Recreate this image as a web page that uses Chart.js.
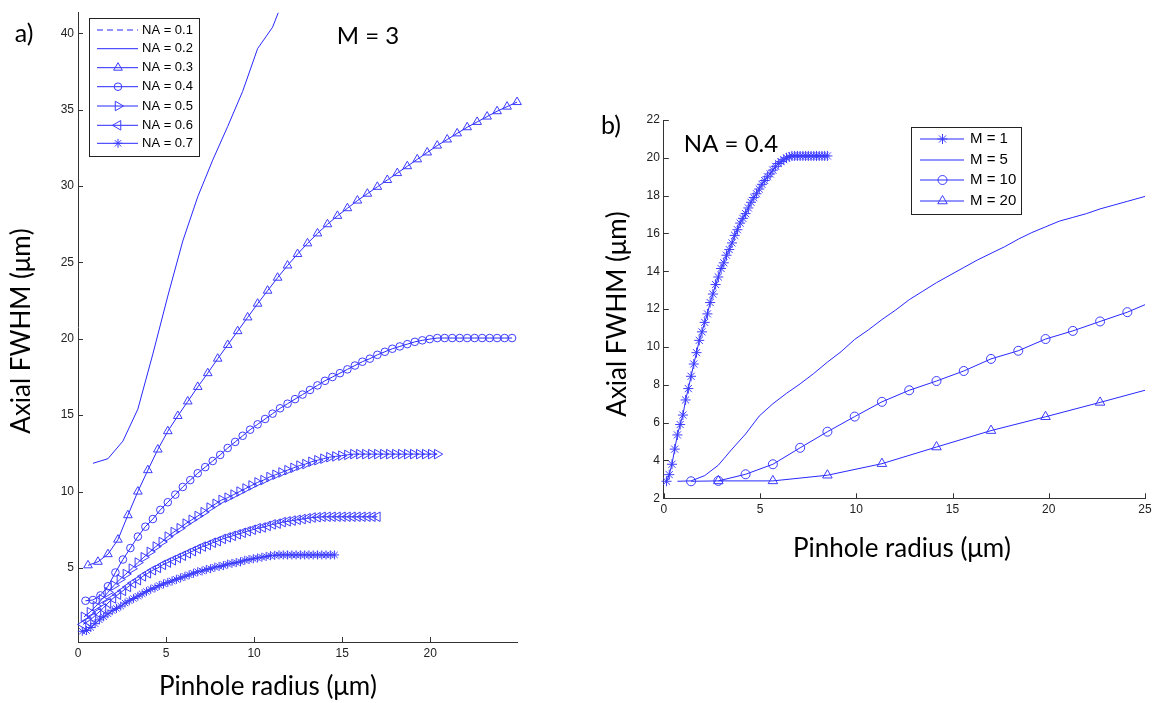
<!DOCTYPE html>
<html>
<head>
<meta charset="utf-8">
<script src="https://cdn.jsdelivr.net/npm/chart.js@4.4.1/dist/chart.umd.min.js"></script>
<style>
  html, body { margin: 0; padding: 0; background: #fff; }
  #wrap { position: relative; width: 1155px; height: 703px; }
  canvas { position: absolute; top: 0; }
  #chartA { left: 0; width: 590px; height: 703px; }
  #chartB { left: 590px; width: 565px; height: 703px; }
</style>
</head>
<body>
<div id="wrap">
  <canvas id="chartA" width="590" height="703"></canvas>
  <canvas id="chartB" width="565" height="703"></canvas>
</div>
<script>
// ---- panel a) M = 3, one curve per NA ----
const xTicksA = [0, 5, 10, 15, 20];
const yTicksA = [5, 10, 15, 20, 25, 30, 35, 40];

const xNA01 = [];
const yNA01 = [];   // off the top of the plot, only in the legend

const xNA02 = [0.85, 1.7, 2.55, 3.4, 4.25, 5.1, 5.95, 6.8, 7.65, 8.5, 9.35, 10.2, 11.05, 11.9];
const yNA02 = [11.85, 12.15, 13.3, 15.4, 19.0, 22.8, 26.4, 29.3, 31.7, 33.9, 36.2, 39.0, 40.4, 42.9];

const xNA03 = [0.567, 1.133, 1.7, 2.267, 2.833, 3.4, 3.967, 4.533, 5.1, 5.667, 6.233, 6.8, 7.367, 7.933, 8.5,
  9.067, 9.633, 10.2, 10.767, 11.333, 11.9, 12.467, 13.033, 13.6, 14.167, 14.733, 15.3, 15.867, 16.433, 17.0,
  17.567, 18.133, 18.7, 19.267, 19.833, 20.4, 20.967, 21.533, 22.1, 22.667, 23.233, 23.8, 24.367, 24.933];
const yNA03 = [5.17, 5.4, 5.9, 6.85, 8.45, 10.0, 11.4, 12.75, 13.95, 14.95, 15.9, 16.85, 17.75, 18.7, 19.6,
  20.5, 21.4, 22.3, 23.15, 24.0, 24.8, 25.55, 26.25, 26.9, 27.5, 28.05, 28.55, 29.05, 29.5, 29.95,
  30.4, 30.85, 31.3, 31.75, 32.2, 32.65, 33.05, 33.45, 33.85, 34.2, 34.55, 34.9, 35.2, 35.5];

const xNA04 = [0.425, 0.85, 1.275, 1.7, 2.125, 2.55, 2.975, 3.4, 3.825, 4.25, 4.675, 5.1, 5.525, 5.95, 6.375,
  6.8, 7.225, 7.65, 8.075, 8.5, 8.925, 9.35, 9.775, 10.2, 10.625, 11.05, 11.475, 11.9, 12.325, 12.75,
  13.175, 13.6, 14.025, 14.45, 14.875, 15.3, 15.725, 16.15, 16.575, 17.0, 17.425, 17.85, 18.275, 18.7,
  19.125, 19.55, 19.975, 20.4, 20.825, 21.25, 21.675, 22.1, 22.525, 22.95, 23.375, 23.8, 24.225, 24.65];
const yNA04 = [2.85, 2.9, 3.2, 3.8, 4.7, 5.55, 6.3, 7.05, 7.7, 8.2, 8.8, 9.3, 9.8, 10.3, 10.75,
  11.2, 11.6, 12.0, 12.4, 12.85, 13.25, 13.65, 14.05, 14.4, 14.75, 15.1, 15.45, 15.75, 16.05, 16.35,
  16.65, 16.95, 17.25, 17.5, 17.75, 18.0, 18.25, 18.5, 18.7, 18.95, 19.15, 19.35, 19.5, 19.65,
  19.8, 19.9, 19.98, 20.05, 20.05, 20.05, 20.05, 20.05, 20.05, 20.05, 20.05, 20.05, 20.05, 20.05];

const xNA05 = [0.34, 0.68, 1.02, 1.36, 1.7, 2.04, 2.38, 2.72, 3.06, 3.4, 3.74, 4.08, 4.42, 4.76, 5.1,
  5.44, 5.78, 6.12, 6.46, 6.8, 7.14, 7.48, 7.82, 8.16, 8.5, 8.84, 9.18, 9.52, 9.86, 10.2,
  10.54, 10.88, 11.22, 11.56, 11.9, 12.24, 12.58, 12.92, 13.26, 13.6, 13.94, 14.28, 14.62, 14.96, 15.3,
  15.64, 15.98, 16.32, 16.66, 17.0, 17.34, 17.68, 18.02, 18.36, 18.7, 19.04, 19.38, 19.72, 20.06, 20.4];
const yNA05 = [1.8, 2.1, 2.5, 2.95, 3.4, 3.85, 4.25, 4.6, 4.95, 5.35, 5.7, 6.05, 6.4, 6.7, 7.05,
  7.35, 7.6, 7.9, 8.15, 8.4, 8.65, 8.95, 9.2, 9.45, 9.6, 9.8, 10.0, 10.2, 10.4, 10.6,
  10.75, 10.95, 11.1, 11.25, 11.4, 11.55, 11.7, 11.8, 11.95, 12.05, 12.15, 12.25, 12.3, 12.35, 12.4,
  12.45, 12.45, 12.45, 12.45, 12.45, 12.45, 12.45, 12.45, 12.45, 12.45, 12.45, 12.45, 12.45, 12.45, 12.45];

const xNA06 = [0.283, 0.567, 0.85, 1.133, 1.417, 1.7, 1.983, 2.267, 2.55, 2.833, 3.117, 3.4, 3.683, 3.967, 4.25,
  4.533, 4.817, 5.1, 5.383, 5.667, 5.95, 6.233, 6.517, 6.8, 7.083, 7.367, 7.65, 7.933, 8.217, 8.5,
  8.783, 9.067, 9.35, 9.633, 9.917, 10.2, 10.483, 10.767, 11.05, 11.333, 11.617, 11.9, 12.183, 12.467, 12.75,
  13.033, 13.317, 13.6, 13.883, 14.167, 14.45, 14.733, 15.017, 15.3, 15.583, 15.867, 16.15, 16.433, 16.717, 17.0];
const yNA06 = [1.3, 1.5, 1.75, 2.05, 2.35, 2.7, 3.0, 3.25, 3.5, 3.75, 4.0, 4.2, 4.45, 4.65, 4.85,
  5.0, 5.2, 5.35, 5.5, 5.65, 5.8, 5.95, 6.1, 6.25, 6.4, 6.5, 6.65, 6.75, 6.9, 7.0,
  7.1, 7.2, 7.3, 7.4, 7.5, 7.6, 7.65, 7.75, 7.85, 7.9, 8.0, 8.05, 8.1, 8.15, 8.2,
  8.25, 8.3, 8.32, 8.35, 8.35, 8.35, 8.35, 8.35, 8.35, 8.35, 8.35, 8.35, 8.35, 8.35, 8.35];

const xNA07 = [0.243, 0.486, 0.729, 0.971, 1.214, 1.457, 1.7, 1.943, 2.186, 2.429, 2.671, 2.914, 3.157, 3.4, 3.643,
  3.886, 4.129, 4.371, 4.614, 4.857, 5.1, 5.343, 5.586, 5.829, 6.071, 6.314, 6.557, 6.8, 7.043, 7.286,
  7.529, 7.771, 8.014, 8.257, 8.5, 8.743, 8.986, 9.229, 9.471, 9.714, 9.957, 10.2, 10.443, 10.686, 10.929,
  11.171, 11.414, 11.657, 11.9, 12.143, 12.386, 12.629, 12.871, 13.114, 13.357, 13.6, 13.843, 14.086, 14.329, 14.571];
const yNA07 = [0.85, 0.9, 1.1, 1.35, 1.6, 1.8, 2.0, 2.2, 2.35, 2.5, 2.7, 2.85, 3.0, 3.15, 3.3,
  3.45, 3.6, 3.7, 3.85, 3.95, 4.05, 4.15, 4.25, 4.35, 4.45, 4.55, 4.65, 4.75, 4.8, 4.9,
  4.95, 5.05, 5.1, 5.15, 5.25, 5.3, 5.35, 5.4, 5.5, 5.55, 5.6, 5.65, 5.7, 5.75, 5.8,
  5.82, 5.85, 5.85, 5.85, 5.85, 5.85, 5.85, 5.85, 5.85, 5.85, 5.85, 5.85, 5.85, 5.85, 5.85];

// ---- panel b) NA = 0.4, one curve per M ----
const xTicksB = [0, 5, 10, 15, 20, 25];
const yTicksB = [2, 4, 6, 8, 10, 12, 14, 16, 18, 20, 22];

const xM1 = [0.142, 0.283, 0.425, 0.567, 0.708, 0.85, 0.992, 1.133, 1.275, 1.417, 1.558, 1.7, 1.842, 1.983, 2.125,
  2.267, 2.408, 2.55, 2.692, 2.833, 2.975, 3.117, 3.258, 3.4, 3.542, 3.683, 3.825, 3.967, 4.108, 4.25,
  4.392, 4.533, 4.675, 4.817, 4.958, 5.1, 5.242, 5.383, 5.525, 5.667, 5.808, 5.95, 6.092, 6.233, 6.375,
  6.517, 6.658, 6.8, 6.942, 7.083, 7.225, 7.367, 7.508, 7.65, 7.792, 7.933, 8.075, 8.217, 8.358, 8.5];
const yM1 = [2.9, 3.25, 3.8, 4.6, 5.35, 5.9, 6.4, 7.2, 7.8, 8.45, 9.1, 9.7, 10.35, 10.8, 11.3,
  11.75, 12.35, 12.8, 13.3, 13.7, 14.15, 14.45, 14.85, 15.15, 15.5, 15.9, 16.2, 16.55, 16.8, 17.05,
  17.35, 17.65, 17.9, 18.1, 18.35, 18.6, 18.8, 19.0, 19.15, 19.35, 19.55, 19.7, 19.8, 19.9, 20.0,
  20.05, 20.1, 20.1, 20.1, 20.1, 20.1, 20.1, 20.1, 20.1, 20.1, 20.1, 20.1, 20.1, 20.1, 20.1];

const xM5 = [0.708, 1.417, 2.125, 2.833, 3.542, 4.25, 4.958, 5.667, 6.375, 7.083, 7.792, 8.5, 9.208, 9.917, 10.625,
  11.333, 12.042, 12.75, 13.458, 14.167, 14.875, 15.583, 16.292, 17.0, 17.708, 18.417, 19.125, 19.833, 20.542, 21.25,
  21.958, 22.667, 23.375, 24.083, 24.792, 25.5];
const yM5 = [2.9, 2.92, 3.2, 3.75, 4.6, 5.4, 6.35, 7.0, 7.55, 8.05, 8.6, 9.2, 9.75, 10.4, 10.9,
  11.45, 11.95, 12.5, 12.95, 13.4, 13.8, 14.2, 14.6, 14.95, 15.3, 15.7, 16.05, 16.35, 16.65, 16.85,
  17.05, 17.3, 17.5, 17.7, 17.9, 18.1];

const xM10 = [1.417, 2.833, 4.25, 5.667, 7.083, 8.5, 9.917, 11.333, 12.75, 14.167, 15.583, 17.0, 18.417, 19.833, 21.25, 22.667, 24.083, 25.5];
const yM10 = [2.9, 2.92, 3.27, 3.8, 4.67, 5.52, 6.32, 7.1, 7.71, 8.2, 8.73, 9.37, 9.8, 10.42, 10.85, 11.35, 11.84, 12.45];

const xM20 = [2.833, 5.667, 8.5, 11.333, 14.167, 17.0, 19.833, 22.667, 25.5];
const yM20 = [2.92, 2.92, 3.22, 3.83, 4.71, 5.58, 6.31, 7.07, 7.85];

const lineBlue = 'rgb(40,40,255)';
const markBlue = 'rgb(60,60,255)';
const tickFont = { family: 'Liberation Sans, Arial, sans-serif', size: 12 };
const bigFont = 'Lato, Calibri, sans-serif';

function series(label, xs, ys, m) {
  return {
    label: label,
    data: xs.map((x, i) => ({ x: x, y: ys[i] })),
    showLine: true,
    borderColor: lineBlue,
    borderWidth: 1,
    borderDash: m.dash || [],
    pointStyle: m.style || 'circle',
    pointRadius: m.radius || 0,
    pointRotation: m.rotation || 0,
    pointBorderColor: markBlue,
    pointBackgroundColor: 'rgba(0,0,0,0)',
    pointBorderWidth: 1,
    tension: 0,
    clip: m.clip !== undefined ? m.clip : 6
  };
}

// legend, inward ticks and free texts, drawn after the chart
function decor(cfg) {
  return {
    id: 'decor',
    afterDraw(chart) {
      const ctx = chart.ctx;
      const area = chart.chartArea;
      const sx = chart.scales.x, sy = chart.scales.y;
      ctx.save();
      ctx.strokeStyle = '#333';
      ctx.lineWidth = 1;
      sx.ticks.forEach(t => {
        const px = Math.round(sx.getPixelForValue(t.value)) + 0.5;
        ctx.beginPath(); ctx.moveTo(px, area.bottom); ctx.lineTo(px, area.bottom - 5); ctx.stroke();
      });
      sy.ticks.forEach(t => {
        const py = Math.round(sy.getPixelForValue(t.value)) + 0.5;
        ctx.beginPath(); ctx.moveTo(area.left, py); ctx.lineTo(area.left + 5, py); ctx.stroke();
      });

      const L = cfg.legend;
      ctx.fillStyle = '#fff';
      ctx.fillRect(L.x0, L.y0, L.x1 - L.x0, L.y1 - L.y0);
      ctx.strokeStyle = '#222';
      ctx.strokeRect(L.x0 + 0.5, L.y0 + 0.5, L.x1 - L.x0, L.y1 - L.y0);
      ctx.font = L.size + 'px Liberation Sans, Arial, sans-serif';
      ctx.textBaseline = 'middle';
      ctx.textAlign = 'left';
      chart.data.datasets.forEach((ds, i) => {
        const y = L.rows[i];
        ctx.strokeStyle = ds.borderColor;
        ctx.setLineDash(ds.borderDash);
        ctx.beginPath(); ctx.moveTo(L.lx0, y); ctx.lineTo(L.lx1, y); ctx.stroke();
        ctx.setLineDash([]);
        if (ds.pointRadius > 0) {
          ctx.strokeStyle = ds.pointBorderColor;
          ctx.fillStyle = 'rgba(0,0,0,0)';
          Chart.helpers.drawPoint(ctx, { pointStyle: ds.pointStyle, rotation: ds.pointRotation, radius: ds.pointRadius, borderWidth: 1 }, L.mx, y);
        }
        ctx.fillStyle = '#000';
        ctx.fillText(ds.label, L.tx, y);
      });

      ctx.fillStyle = '#000';
      ctx.textAlign = 'center';
      cfg.texts.forEach(t => {
        ctx.save();
        ctx.translate(t.x, t.y);
        if (t.rot) ctx.rotate(t.rot);
        ctx.font = t.size + 'px ' + bigFont;
        ctx.fillText(t.text, 0, 0);
        ctx.restore();
      });
      ctx.restore();
    }
  };
}

function axis(min, max, ticks, fit, pad) {
  return {
    type: 'linear', min: min, max: max,
    afterBuildTicks: s => { s.ticks = ticks.map(v => ({ value: v })); },
    afterFit: fit,
    grid: { drawOnChartArea: false, drawTicks: false },
    border: { color: '#333', width: 1 },
    ticks: { font: tickFont, color: '#222', padding: pad, maxRotation: 0, autoSkip: false }
  };
}

function makeChart(id, datasets, o) {
  return new Chart(document.getElementById(id), {
    type: 'scatter',
    data: { datasets: datasets },
    options: {
      responsive: false,
      animation: false,
      layout: { padding: { top: o.top, right: o.right, left: 0, bottom: 0 } },
      plugins: { legend: { display: false }, tooltip: { enabled: false } },
      scales: {
        x: axis(o.xmin, o.xmax, o.xticks, s => { s.height = o.xh; s.paddingLeft = 0; s.paddingRight = 0; }, 4),
        y: axis(o.ymin, o.ymax, o.yticks, s => { s.width = o.yw; s.paddingTop = 0; s.paddingBottom = 0; }, 4)
      }
    },
    plugins: [decor(o.decor)]
  });
}

makeChart('chartA', [
  series('NA = 0.1', xNA01, yNA01, { dash: [6, 4] }),
  series('NA = 0.2', xNA02, yNA02, { clip: 0 }),
  series('NA = 0.3', xNA03, yNA03, { style: 'triangle', radius: 5 }),
  series('NA = 0.4', xNA04, yNA04, { style: 'circle', radius: 3.8 }),
  series('NA = 0.5', xNA05, yNA05, { style: 'triangle', radius: 5.5, rotation: 90 }),
  series('NA = 0.6', xNA06, yNA06, { style: 'triangle', radius: 5.5, rotation: -90 }),
  series('NA = 0.7', xNA07, yNA07, { style: 'star', radius: 4.5 })
], {
  xmin: 0, xmax: 24.93, ymin: 0.15, ymax: 41.35, xticks: xTicksA, yticks: yTicksA,
  top: 12.7, right: 73, xh: 61, yw: 78,
  decor: {
    legend: { x0: 89, y0: 18, x1: 199, y1: 156, rows: [30, 48.7, 67.7, 86.7, 106, 125.3, 143.3], lx0: 97, lx1: 138, mx: 118, tx: 142, size: 13 },
    texts: [
      { text: 'a)', x: 24, y: 34, size: 25 },
      { text: 'M = 3', x: 368, y: 36, size: 24 },
      { text: 'Axial FWHM (\u03bcm)', x: 22, y: 331, size: 26, rot: -Math.PI / 2 },
      { text: 'Pinhole radius (\u03bcm)', x: 268, y: 687, size: 26 }
    ]
  }
});

makeChart('chartB', [
  series('M = 1', xM1, yM1, { style: 'star', radius: 5 }),
  series('M = 5', xM5, yM5, { clip: { left: 0, top: 0, right: 0, bottom: 0 } }),
  series('M = 10', xM10, yM10, { style: 'circle', radius: 4.5, clip: { left: 6, top: 6, right: 0, bottom: 6 } }),
  series('M = 20', xM20, yM20, { style: 'triangle', radius: 5.5, clip: { left: 6, top: 6, right: 0, bottom: 6 } })
], {
  xmin: 0, xmax: 25, ymin: 2, ymax: 22, xticks: xTicksB, yticks: yTicksB,
  top: 120, right: 10, xh: 204.7, yw: 73.8,
  decor: {
    legend: { x0: 321, y0: 127, x1: 431, y1: 214, rows: [139, 160, 180, 201], lx0: 330, lx1: 374, mx: 352.5, tx: 380, size: 15 },
    texts: [
      { text: 'b)', x: 21, y: 126, size: 25 },
      { text: 'NA = 0.4', x: 141, y: 144, size: 24 },
      { text: 'Axial FWHM (\u03bcm)', x: 28, y: 314, size: 26, rot: -Math.PI / 2 },
      { text: 'Pinhole radius (\u03bcm)', x: 312, y: 549, size: 26 }
    ]
  }
});
</script>
</body>
</html>
